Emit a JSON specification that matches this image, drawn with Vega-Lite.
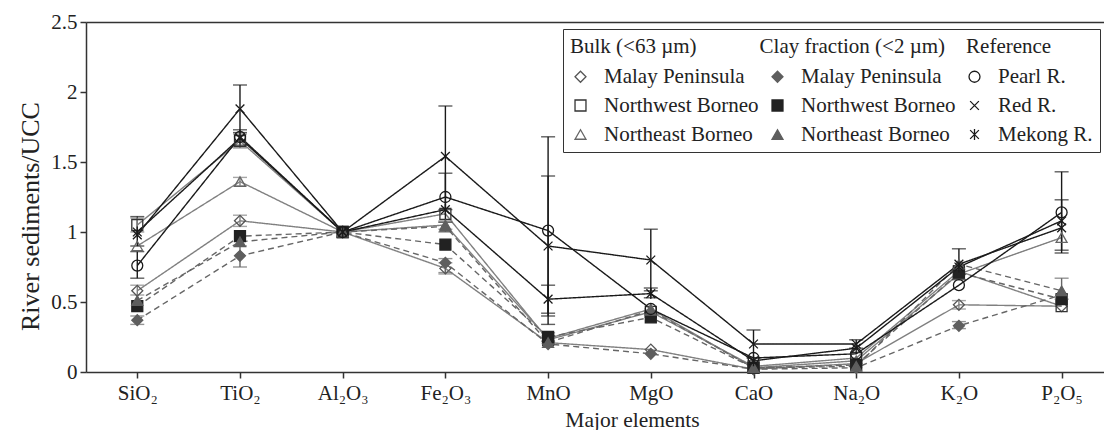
{
  "$schema": "https://vega.github.io/schema/vega-lite/v6.json",
  "width": 1018,
  "height": 350,
  "autosize": {"type": "none"},
  "padding": {"left": 86, "top": 22, "right": 0, "bottom": 58},
  "background": "white",
  "config": {
    "font": "Liberation Serif",
    "view": {"stroke": null},
    "axis": {
      "labelFont": "Liberation Serif", "labelFontSize": 21, "labelColor": "#222",
      "titleFont": "Liberation Serif", "titleFontSize": 21, "titleFontWeight": "normal", "titleColor": "#222",
      "domainColor": "#333", "domainWidth": 1.5, "tickColor": "#333", "tickWidth": 1.5, "tickSize": 6, "grid": false
    },
    "legend": {
      "labelFont": "Liberation Serif", "labelFontSize": 21, "labelColor": "#222", "labelLimit": 300,
      "titleFont": "Liberation Serif", "titleFontSize": 21, "titleFontWeight": "normal", "titleColor": "#222",
      "titleLimit": 700, "titlePadding": 9,
      "symbolSize": 120, "symbolStrokeWidth": 1.3, "rowPadding": 7, "columnPadding": 8, "labelOffset": 13,
      "padding": 7, "strokeColor": "#333", "fillColor": "white"
    }
  },
  "datasets": {
    "series": [
      {"series": "Bulk: Malay Peninsula", "group": "Bulk", "el": "SiO₂", "v": 0.58},
      {"series": "Bulk: Malay Peninsula", "group": "Bulk", "el": "TiO₂", "v": 1.08},
      {"series": "Bulk: Malay Peninsula", "group": "Bulk", "el": "Al₂O₃", "v": 1.0},
      {"series": "Bulk: Malay Peninsula", "group": "Bulk", "el": "Fe₂O₃", "v": 0.74},
      {"series": "Bulk: Malay Peninsula", "group": "Bulk", "el": "MnO", "v": 0.21},
      {"series": "Bulk: Malay Peninsula", "group": "Bulk", "el": "MgO", "v": 0.16},
      {"series": "Bulk: Malay Peninsula", "group": "Bulk", "el": "CaO", "v": 0.02},
      {"series": "Bulk: Malay Peninsula", "group": "Bulk", "el": "Na₂O", "v": 0.06},
      {"series": "Bulk: Malay Peninsula", "group": "Bulk", "el": "K₂O", "v": 0.48},
      {"series": "Bulk: Malay Peninsula", "group": "Bulk", "el": "P₂O₅", "v": 0.47},
      {"series": "Bulk: Northwest Borneo", "group": "Bulk", "el": "SiO₂", "v": 1.05},
      {"series": "Bulk: Northwest Borneo", "group": "Bulk", "el": "TiO₂", "v": 1.65},
      {"series": "Bulk: Northwest Borneo", "group": "Bulk", "el": "Al₂O₃", "v": 1.0},
      {"series": "Bulk: Northwest Borneo", "group": "Bulk", "el": "Fe₂O₃", "v": 1.13},
      {"series": "Bulk: Northwest Borneo", "group": "Bulk", "el": "MnO", "v": 0.23},
      {"series": "Bulk: Northwest Borneo", "group": "Bulk", "el": "MgO", "v": 0.43},
      {"series": "Bulk: Northwest Borneo", "group": "Bulk", "el": "CaO", "v": 0.04},
      {"series": "Bulk: Northwest Borneo", "group": "Bulk", "el": "Na₂O", "v": 0.1},
      {"series": "Bulk: Northwest Borneo", "group": "Bulk", "el": "K₂O", "v": 0.72},
      {"series": "Bulk: Northwest Borneo", "group": "Bulk", "el": "P₂O₅", "v": 0.47},
      {"series": "Bulk: Northeast Borneo", "group": "Bulk", "el": "SiO₂", "v": 0.9},
      {"series": "Bulk: Northeast Borneo", "group": "Bulk", "el": "TiO₂", "v": 1.36},
      {"series": "Bulk: Northeast Borneo", "group": "Bulk", "el": "Al₂O₃", "v": 1.0},
      {"series": "Bulk: Northeast Borneo", "group": "Bulk", "el": "Fe₂O₃", "v": 1.05},
      {"series": "Bulk: Northeast Borneo", "group": "Bulk", "el": "MnO", "v": 0.24},
      {"series": "Bulk: Northeast Borneo", "group": "Bulk", "el": "MgO", "v": 0.45},
      {"series": "Bulk: Northeast Borneo", "group": "Bulk", "el": "CaO", "v": 0.03},
      {"series": "Bulk: Northeast Borneo", "group": "Bulk", "el": "Na₂O", "v": 0.08},
      {"series": "Bulk: Northeast Borneo", "group": "Bulk", "el": "K₂O", "v": 0.7},
      {"series": "Bulk: Northeast Borneo", "group": "Bulk", "el": "P₂O₅", "v": 0.96},
      {"series": "Clay: Malay Peninsula", "group": "Clay", "el": "SiO₂", "v": 0.37},
      {"series": "Clay: Malay Peninsula", "group": "Clay", "el": "TiO₂", "v": 0.83},
      {"series": "Clay: Malay Peninsula", "group": "Clay", "el": "Al₂O₃", "v": 1.0},
      {"series": "Clay: Malay Peninsula", "group": "Clay", "el": "Fe₂O₃", "v": 0.78},
      {"series": "Clay: Malay Peninsula", "group": "Clay", "el": "MnO", "v": 0.2},
      {"series": "Clay: Malay Peninsula", "group": "Clay", "el": "MgO", "v": 0.13},
      {"series": "Clay: Malay Peninsula", "group": "Clay", "el": "CaO", "v": 0.02},
      {"series": "Clay: Malay Peninsula", "group": "Clay", "el": "Na₂O", "v": 0.03},
      {"series": "Clay: Malay Peninsula", "group": "Clay", "el": "K₂O", "v": 0.33},
      {"series": "Clay: Malay Peninsula", "group": "Clay", "el": "P₂O₅", "v": 0.55},
      {"series": "Clay: Northwest Borneo", "group": "Clay", "el": "SiO₂", "v": 0.47},
      {"series": "Clay: Northwest Borneo", "group": "Clay", "el": "TiO₂", "v": 0.97},
      {"series": "Clay: Northwest Borneo", "group": "Clay", "el": "Al₂O₃", "v": 1.0},
      {"series": "Clay: Northwest Borneo", "group": "Clay", "el": "Fe₂O₃", "v": 0.91},
      {"series": "Clay: Northwest Borneo", "group": "Clay", "el": "MnO", "v": 0.25},
      {"series": "Clay: Northwest Borneo", "group": "Clay", "el": "MgO", "v": 0.39},
      {"series": "Clay: Northwest Borneo", "group": "Clay", "el": "CaO", "v": 0.03},
      {"series": "Clay: Northwest Borneo", "group": "Clay", "el": "Na₂O", "v": 0.05},
      {"series": "Clay: Northwest Borneo", "group": "Clay", "el": "K₂O", "v": 0.71},
      {"series": "Clay: Northwest Borneo", "group": "Clay", "el": "P₂O₅", "v": 0.52},
      {"series": "Clay: Northeast Borneo", "group": "Clay", "el": "SiO₂", "v": 0.51},
      {"series": "Clay: Northeast Borneo", "group": "Clay", "el": "TiO₂", "v": 0.93},
      {"series": "Clay: Northeast Borneo", "group": "Clay", "el": "Al₂O₃", "v": 1.0},
      {"series": "Clay: Northeast Borneo", "group": "Clay", "el": "Fe₂O₃", "v": 1.04},
      {"series": "Clay: Northeast Borneo", "group": "Clay", "el": "MnO", "v": 0.21},
      {"series": "Clay: Northeast Borneo", "group": "Clay", "el": "MgO", "v": 0.44},
      {"series": "Clay: Northeast Borneo", "group": "Clay", "el": "CaO", "v": 0.03},
      {"series": "Clay: Northeast Borneo", "group": "Clay", "el": "Na₂O", "v": 0.04},
      {"series": "Clay: Northeast Borneo", "group": "Clay", "el": "K₂O", "v": 0.77},
      {"series": "Clay: Northeast Borneo", "group": "Clay", "el": "P₂O₅", "v": 0.58},
      {"series": "Reference: Pearl R.", "group": "Reference", "el": "SiO₂", "v": 0.76},
      {"series": "Reference: Pearl R.", "group": "Reference", "el": "TiO₂", "v": 1.68},
      {"series": "Reference: Pearl R.", "group": "Reference", "el": "Al₂O₃", "v": 1.0},
      {"series": "Reference: Pearl R.", "group": "Reference", "el": "Fe₂O₃", "v": 1.25},
      {"series": "Reference: Pearl R.", "group": "Reference", "el": "MnO", "v": 1.01},
      {"series": "Reference: Pearl R.", "group": "Reference", "el": "MgO", "v": 0.45},
      {"series": "Reference: Pearl R.", "group": "Reference", "el": "CaO", "v": 0.1},
      {"series": "Reference: Pearl R.", "group": "Reference", "el": "Na₂O", "v": 0.13},
      {"series": "Reference: Pearl R.", "group": "Reference", "el": "K₂O", "v": 0.62},
      {"series": "Reference: Pearl R.", "group": "Reference", "el": "P₂O₅", "v": 1.14},
      {"series": "Reference: Red R.", "group": "Reference", "el": "SiO₂", "v": 0.98},
      {"series": "Reference: Red R.", "group": "Reference", "el": "TiO₂", "v": 1.88},
      {"series": "Reference: Red R.", "group": "Reference", "el": "Al₂O₃", "v": 1.0},
      {"series": "Reference: Red R.", "group": "Reference", "el": "Fe₂O₃", "v": 1.54},
      {"series": "Reference: Red R.", "group": "Reference", "el": "MnO", "v": 0.9},
      {"series": "Reference: Red R.", "group": "Reference", "el": "MgO", "v": 0.8},
      {"series": "Reference: Red R.", "group": "Reference", "el": "CaO", "v": 0.2},
      {"series": "Reference: Red R.", "group": "Reference", "el": "Na₂O", "v": 0.2},
      {"series": "Reference: Red R.", "group": "Reference", "el": "K₂O", "v": 0.77},
      {"series": "Reference: Red R.", "group": "Reference", "el": "P₂O₅", "v": 1.03},
      {"series": "Reference: Mekong R.", "group": "Reference", "el": "SiO₂", "v": 1.0},
      {"series": "Reference: Mekong R.", "group": "Reference", "el": "TiO₂", "v": 1.67},
      {"series": "Reference: Mekong R.", "group": "Reference", "el": "Al₂O₃", "v": 1.0},
      {"series": "Reference: Mekong R.", "group": "Reference", "el": "Fe₂O₃", "v": 1.16},
      {"series": "Reference: Mekong R.", "group": "Reference", "el": "MnO", "v": 0.52},
      {"series": "Reference: Mekong R.", "group": "Reference", "el": "MgO", "v": 0.56},
      {"series": "Reference: Mekong R.", "group": "Reference", "el": "CaO", "v": 0.08},
      {"series": "Reference: Mekong R.", "group": "Reference", "el": "Na₂O", "v": 0.17},
      {"series": "Reference: Mekong R.", "group": "Reference", "el": "K₂O", "v": 0.75},
      {"series": "Reference: Mekong R.", "group": "Reference", "el": "P₂O₅", "v": 1.08}
    ],
    "err": [
      {"group": "Reference", "el": "SiO₂", "lo": 0.67, "hi": 0.86},
      {"group": "Reference", "el": "SiO₂", "lo": 0.9, "hi": 1.11},
      {"group": "Reference", "el": "TiO₂", "lo": 1.71, "hi": 2.05},
      {"group": "Reference", "el": "TiO₂", "lo": 1.62, "hi": 1.73},
      {"group": "Reference", "el": "Fe₂O₃", "lo": 1.16, "hi": 1.9},
      {"group": "Reference", "el": "Fe₂O₃", "lo": 1.07, "hi": 1.42},
      {"group": "Reference", "el": "MnO", "lo": 0.34, "hi": 1.68},
      {"group": "Reference", "el": "MnO", "lo": 0.4, "hi": 1.4},
      {"group": "Reference", "el": "MnO", "lo": 0.42, "hi": 0.62},
      {"group": "Reference", "el": "MgO", "lo": 0.58, "hi": 1.02},
      {"group": "Reference", "el": "MgO", "lo": 0.53, "hi": 0.6},
      {"group": "Reference", "el": "CaO", "lo": 0.1, "hi": 0.3},
      {"group": "Reference", "el": "Na₂O", "lo": 0.17, "hi": 0.23},
      {"group": "Reference", "el": "K₂O", "lo": 0.66, "hi": 0.88},
      {"group": "Reference", "el": "P₂O₅", "lo": 0.85, "hi": 1.43},
      {"group": "Reference", "el": "P₂O₅", "lo": 0.87, "hi": 1.23},
      {"group": "Bulk", "el": "SiO₂", "lo": 0.55, "hi": 0.62},
      {"group": "Bulk", "el": "SiO₂", "lo": 1.0, "hi": 1.1},
      {"group": "Bulk", "el": "TiO₂", "lo": 1.33, "hi": 1.39},
      {"group": "Bulk", "el": "TiO₂", "lo": 1.04, "hi": 1.12},
      {"group": "Bulk", "el": "TiO₂", "lo": 1.6, "hi": 1.7},
      {"group": "Bulk", "el": "Fe₂O₃", "lo": 0.7, "hi": 0.78},
      {"group": "Bulk", "el": "Fe₂O₃", "lo": 1.02, "hi": 1.08},
      {"group": "Bulk", "el": "K₂O", "lo": 0.45, "hi": 0.51},
      {"group": "Clay", "el": "SiO₂", "lo": 0.34, "hi": 0.4},
      {"group": "Clay", "el": "TiO₂", "lo": 0.75, "hi": 0.9},
      {"group": "Clay", "el": "Fe₂O₃", "lo": 0.71, "hi": 0.81},
      {"group": "Clay", "el": "Fe₂O₃", "lo": 1.0, "hi": 1.07},
      {"group": "Clay", "el": "MnO", "lo": 0.22, "hi": 0.28},
      {"group": "Clay", "el": "K₂O", "lo": 0.31, "hi": 0.36},
      {"group": "Clay", "el": "P₂O₅", "lo": 0.52, "hi": 0.67}
    ]
  },
  "layer": [
    {
      "mark": {"type": "rule", "strokeDash": [8, 5], "strokeWidth": 1.6, "color": "#222"},
      "encoding": {"y": {"datum": 1, "type": "quantitative"}}
    },
    {
      "data": {"name": "series"},
      "mark": {"type": "line", "strokeWidth": 1.4},
      "encoding": {
        "x": {
          "field": "el", "type": "ordinal",
          "sort": ["SiO₂", "TiO₂", "Al₂O₃", "Fe₂O₃", "MnO", "MgO", "CaO", "Na₂O", "K₂O", "P₂O₅"],
          "scale": {"type": "point", "padding": 0.456, "align": 0.5475, "round": false},
          "axis": {"orient": "bottom", "title": "Major elements", "titleX": 546, "titleFontSize": 21.5, "labelAngle": 0, "labelPadding": 4, "titlePadding": 6, "domain": true}
        },
        "y": {
          "field": "v", "type": "quantitative",
          "scale": {"domain": [0, 2.5], "nice": false, "zero": true},
          "axis": {"title": "River sediments/UCC", "titleFontSize": 26, "titleY": 194, "values": [0, 0.5, 1, 1.5, 2, 2.5], "labelExpr": "'' + datum.value", "labelPadding": 3, "titlePadding": 7}
        },
        "detail": {"field": "series"},
        "color": {"field": "group", "type": "nominal", "legend": null,
          "scale": {"domain": ["Bulk", "Clay", "Reference"], "range": ["#808080", "#666666", "#1a1a1a"]}},
        "strokeDash": {"field": "group", "type": "nominal", "legend": null,
          "scale": {"domain": ["Bulk", "Clay", "Reference"], "range": [[1, 0], [6, 4], [1, 0]]}}
      }
    },
    {
      "data": {"name": "err"},
      "mark": {"type": "rule", "strokeWidth": 1.4},
      "encoding": {
        "x": {"field": "el", "type": "ordinal",
          "sort": ["SiO₂", "TiO₂", "Al₂O₃", "Fe₂O₃", "MnO", "MgO", "CaO", "Na₂O", "K₂O", "P₂O₅"],
          "axis": {"orient": "top", "labels": false, "ticks": false, "title": null, "domain": true}},
        "y": {"field": "lo", "type": "quantitative"},
        "y2": {"field": "hi"},
        "color": {"field": "group", "type": "nominal", "legend": null}
      }
    },
    {
      "data": {"name": "err"},
      "mark": {"type": "tick", "size": 14, "thickness": 1.4},
      "encoding": {
        "x": {"field": "el", "type": "ordinal",
          "sort": ["SiO₂", "TiO₂", "Al₂O₃", "Fe₂O₃", "MnO", "MgO", "CaO", "Na₂O", "K₂O", "P₂O₅"], "axis": null},
        "y": {"field": "lo", "type": "quantitative"},
        "color": {"field": "group", "type": "nominal", "legend": null}
      }
    },
    {
      "data": {"name": "err"},
      "mark": {"type": "tick", "size": 14, "thickness": 1.4},
      "encoding": {
        "x": {"field": "el", "type": "ordinal",
          "sort": ["SiO₂", "TiO₂", "Al₂O₃", "Fe₂O₃", "MnO", "MgO", "CaO", "Na₂O", "K₂O", "P₂O₅"], "axis": null},
        "y": {"field": "hi", "type": "quantitative"},
        "color": {"field": "group", "type": "nominal", "legend": null}
      }
    },
    {
      "data": {"name": "series"},
      "mark": {"type": "point", "size": 120, "strokeWidth": 1.3, "opacity": 1},
      "encoding": {
        "x": {"field": "el", "type": "ordinal",
          "sort": ["SiO₂", "TiO₂", "Al₂O₃", "Fe₂O₃", "MnO", "MgO", "CaO", "Na₂O", "K₂O", "P₂O₅"], "axis": null},
        "y": {"field": "v", "type": "quantitative"},
        "shape": {
          "field": "series", "type": "nominal",
          "scale": {
            "domain": ["Bulk: Malay Peninsula", "Bulk: Northwest Borneo", "Bulk: Northeast Borneo",
              "Clay: Malay Peninsula", "Clay: Northwest Borneo", "Clay: Northeast Borneo",
              "Reference: Pearl R.", "Reference: Red R.", "Reference: Mekong R."],
            "range": ["diamond", "square", "triangle-up",
              "diamond", "square", "triangle-up",
              "circle", "M-0.8,-0.8L0.8,0.8M-0.8,0.8L0.8,-0.8", "M-0.8,-0.8L0.8,0.8M-0.8,0.8L0.8,-0.8M0,-1L0,1"]
          },
          "legend": {
            "title": "\u00a0\u00a0Bulk (<63 µm)\u00a0\u00a0\u00a0\u00a0\u00a0\u00a0\u00a0\u00a0\u00a0\u00a0\u00a0\u00a0Clay fraction (<2 µm)\u00a0\u00a0\u00a0\u00a0Reference",
            "orient": "none", "legendX": 477, "legendY": 7, "columns": 3,
            "labelExpr": "slice(datum.label, indexof(datum.label, ': ') + 2) + (indexof(datum.label, 'Clay') == 0 ? '\u00a0\u00a0\u00a0\u00a0' : '')"
          }
        },
        "fill": {
          "field": "series", "type": "nominal",
          "scale": {
            "domain": ["Bulk: Malay Peninsula", "Bulk: Northwest Borneo", "Bulk: Northeast Borneo",
              "Clay: Malay Peninsula", "Clay: Northwest Borneo", "Clay: Northeast Borneo",
              "Reference: Pearl R.", "Reference: Red R.", "Reference: Mekong R."],
            "range": ["transparent", "transparent", "transparent",
              "#5e5e5e", "#222222", "#5e5e5e",
              "transparent", "transparent", "transparent"]
          },
          "legend": {
            "title": "\u00a0\u00a0Bulk (<63 µm)\u00a0\u00a0\u00a0\u00a0\u00a0\u00a0\u00a0\u00a0\u00a0\u00a0\u00a0\u00a0Clay fraction (<2 µm)\u00a0\u00a0\u00a0\u00a0Reference",
            "orient": "none", "legendX": 477, "legendY": 7, "columns": 3,
            "labelExpr": "slice(datum.label, indexof(datum.label, ': ') + 2) + (indexof(datum.label, 'Clay') == 0 ? '\u00a0\u00a0\u00a0\u00a0' : '')"
          }
        },
        "stroke": {
          "field": "series", "type": "nominal",
          "scale": {
            "domain": ["Bulk: Malay Peninsula", "Bulk: Northwest Borneo", "Bulk: Northeast Borneo",
              "Clay: Malay Peninsula", "Clay: Northwest Borneo", "Clay: Northeast Borneo",
              "Reference: Pearl R.", "Reference: Red R.", "Reference: Mekong R."],
            "range": ["#555555", "#333333", "#666666",
              "#5e5e5e", "#222222", "#5e5e5e",
              "#1a1a1a", "#1a1a1a", "#1a1a1a"]
          },
          "legend": {
            "title": "\u00a0\u00a0Bulk (<63 µm)\u00a0\u00a0\u00a0\u00a0\u00a0\u00a0\u00a0\u00a0\u00a0\u00a0\u00a0\u00a0Clay fraction (<2 µm)\u00a0\u00a0\u00a0\u00a0Reference",
            "orient": "none", "legendX": 477, "legendY": 7, "columns": 3,
            "labelExpr": "slice(datum.label, indexof(datum.label, ': ') + 2) + (indexof(datum.label, 'Clay') == 0 ? '\u00a0\u00a0\u00a0\u00a0' : '')"
          }
        }
      }
    }
  ]
}
